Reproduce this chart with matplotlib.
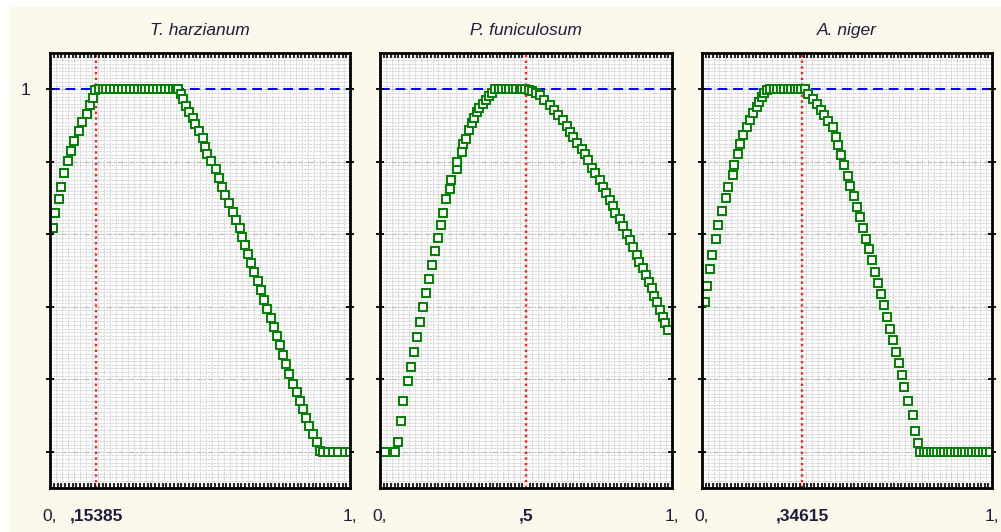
import numpy as np
import matplotlib
matplotlib.use("Agg")
import matplotlib.pyplot as plt
from matplotlib.patches import Rectangle
from matplotlib.ticker import MultipleLocator

plt.rcParams['font.family'] = ['Liberation Sans', 'DejaVu Sans']

# Desirability profiles for the three fungal strains
titles = ["T. harzianum", "P. funiculosum", "A. niger"]
optimum = [0.15385, 0.5, 0.34615]
optimum_labels = [",15385", ",5", ",34615"]
end_labels = ["0,", "1,"]

x_harz = [0.010, 0.017, 0.030, 0.036, 0.048, 0.061, 0.070, 0.081, 0.097, 0.108, 0.122, 0.133, 0.142, 0.150,
          0.162, 0.175, 0.188, 0.201, 0.214, 0.227, 0.240, 0.253, 0.266, 0.279, 0.292, 0.305, 0.318, 0.331,
          0.344, 0.357, 0.370, 0.383, 0.396, 0.409, 0.420,
          0.428, 0.436, 0.444, 0.453, 0.463, 0.476, 0.482, 0.498, 0.509, 0.518, 0.524, 0.536, 0.552, 0.563,
          0.572, 0.583, 0.598, 0.611, 0.620, 0.633, 0.639,
          0.649, 0.660, 0.671, 0.681, 0.692, 0.703, 0.713, 0.724, 0.735, 0.745, 0.756, 0.767, 0.777, 0.788, 0.798,
          0.809, 0.824, 0.833, 0.844, 0.853, 0.864, 0.878, 0.891, 0.900,
          0.911, 0.928, 0.944, 0.961, 0.983, 1.000]
y_harz = [0.617, 0.658, 0.697, 0.731, 0.768, 0.802, 0.830, 0.857, 0.885, 0.911, 0.933, 0.956, 0.977, 0.997,
          1.000, 1.000, 1.000, 1.000, 1.000, 1.000, 1.000, 1.000, 1.000, 1.000, 1.000, 1.000, 1.000, 1.000,
          1.000, 1.000, 1.000, 1.000, 1.000, 1.000, 1.000,
          1.000, 0.988, 0.972, 0.954, 0.936, 0.920, 0.903, 0.885, 0.866, 0.841, 0.821, 0.802, 0.779, 0.754,
          0.731, 0.708, 0.687, 0.662, 0.639, 0.616, 0.593,
          0.569, 0.545, 0.520, 0.495, 0.470, 0.445, 0.420, 0.395, 0.370, 0.345, 0.320, 0.294, 0.268, 0.241, 0.214,
          0.187, 0.165, 0.141, 0.118, 0.094, 0.072, 0.050, 0.026, 0.003,
          0.000, 0.000, 0.000, 0.000, 0.000, 0.000]

x_funi = [0.000, 0.017, 0.051, 0.061, 0.072, 0.080, 0.097,
          0.106, 0.116, 0.127, 0.137, 0.147, 0.158, 0.168, 0.178, 0.188, 0.199, 0.209, 0.216,
          0.226, 0.240, 0.242, 0.263, 0.265, 0.280, 0.285, 0.295, 0.306, 0.314, 0.322, 0.333, 0.340, 0.352,
          0.363, 0.374, 0.382, 0.394,
          0.406, 0.418, 0.430, 0.442, 0.454, 0.466, 0.478, 0.488, 0.497,
          0.510, 0.522, 0.535, 0.548, 0.562, 0.582, 0.597, 0.611, 0.626, 0.639, 0.651, 0.662, 0.676, 0.691,
          0.702, 0.713, 0.725, 0.736, 0.753, 0.765, 0.774, 0.788, 0.797, 0.805, 0.822, 0.833, 0.845, 0.856,
          0.867, 0.879, 0.888, 0.900, 0.911, 0.922, 0.930, 0.938, 0.950, 0.959, 0.968, 0.976, 0.985]
y_funi = [0.000, 0.000, 0.000, 0.026, 0.086, 0.139, 0.194,
          0.234, 0.275, 0.317, 0.358, 0.399, 0.438, 0.477, 0.515, 0.554, 0.590, 0.625, 0.660,
          0.697, 0.725, 0.750, 0.779, 0.800, 0.827, 0.848, 0.864, 0.887, 0.907, 0.922, 0.936, 0.947, 0.958,
          0.970, 0.981, 0.990, 1.000,
          1.000, 1.000, 1.000, 1.000, 1.000, 1.000, 1.000, 1.000, 1.000,
          0.998, 0.995, 0.990, 0.984, 0.970, 0.956, 0.942, 0.928, 0.915, 0.900, 0.882, 0.869, 0.852, 0.836,
          0.821, 0.804, 0.784, 0.768, 0.749, 0.731, 0.713, 0.694, 0.678, 0.659, 0.641, 0.623, 0.602, 0.584,
          0.564, 0.543, 0.524, 0.506, 0.488, 0.469, 0.451, 0.430, 0.412, 0.391, 0.373, 0.355, 0.336]

x_nig = [0.010, 0.016, 0.028, 0.033, 0.048, 0.056, 0.068, 0.083, 0.091, 0.106, 0.110, 0.125, 0.131, 0.142,
         0.154, 0.166, 0.177, 0.189, 0.198, 0.206, 0.214, 0.223,
         0.235, 0.247, 0.259, 0.271, 0.283, 0.295, 0.307, 0.319, 0.331, 0.343, 0.355,
         0.367, 0.384, 0.395, 0.409, 0.421, 0.436, 0.451, 0.462, 0.470,
         0.481, 0.491, 0.502, 0.512, 0.523, 0.533, 0.544, 0.554, 0.565, 0.575, 0.586, 0.596, 0.607, 0.617,
         0.628, 0.638, 0.649, 0.659, 0.670, 0.680, 0.690,
         0.697, 0.711, 0.727, 0.734, 0.746,
         0.752, 0.764, 0.776, 0.788, 0.800, 0.812, 0.824, 0.836, 0.848, 0.860, 0.872, 0.884, 0.896, 0.908,
         0.920, 0.932, 0.944, 0.956, 0.968, 0.980, 0.992]
y_nig = [0.412, 0.456, 0.504, 0.543, 0.586, 0.625, 0.664, 0.699, 0.731, 0.763, 0.791, 0.821, 0.848, 0.873,
         0.896, 0.915, 0.935, 0.951, 0.965, 0.979, 0.990, 0.999,
         1.000, 1.000, 1.000, 1.000, 1.000, 1.000, 1.000, 1.000, 1.000, 1.000, 1.000,
         0.988, 0.974, 0.958, 0.942, 0.928, 0.912, 0.896, 0.868, 0.846,
         0.818, 0.790, 0.762, 0.734, 0.705, 0.676, 0.647, 0.618, 0.588, 0.558, 0.528, 0.497, 0.466, 0.435,
         0.404, 0.372, 0.340, 0.308, 0.276, 0.244, 0.212,
         0.180, 0.139, 0.102, 0.056, 0.024,
         0.000, 0.000, 0.000, 0.000, 0.000, 0.000, 0.000, 0.000, 0.000, 0.000, 0.000, 0.000, 0.000, 0.000,
         0.000, 0.000, 0.000, 0.000, 0.000, 0.000, 0.000]

series = [(x_harz, y_harz), (x_funi, y_funi), (x_nig, y_nig)]

W, H = 1001, 532
fig = plt.figure(figsize=(W / 100, H / 100), dpi=100)
fig.patch.set_facecolor('white')
fig.add_artist(Rectangle((9 / W, 0), 1, 525 / H, transform=fig.transFigure,
                         facecolor='#fdf8ec', edgecolor='none', zorder=-10))

text_color = '#1c1c3c'
panel_px = [(50, 350), (380, 672), (702, 992)]
top_px, bottom_px = 53, 488

for i, ((left, right), title, opt, opt_lab, (xs, ys)) in enumerate(
        zip(panel_px, titles, optimum, optimum_labels, series)):
    ax = fig.add_axes([left / W, (H - bottom_px) / H, (right - left) / W, (bottom_px - top_px) / H])
    ax.set_facecolor('white')
    ax.set_xlim(0, 1)
    ax.set_ylim(-0.1, 1.1)

    # dense background grid
    for gx in np.arange(0.02, 1.0, 0.02):
        ax.axvline(gx, color='#d4d4d4', lw=0.7, ls=(0, (2, 1)), zorder=0)
    for gy in np.arange(-0.09, 1.1, 0.01):
        ax.axhline(gy, color='#d4d4d4', lw=0.7, ls=(0, (2, 1)), zorder=0)
    for gy in np.arange(0.0, 1.01, 0.2):
        ax.axhline(gy, color='#bcbcbc', lw=0.9, ls=(0, (4, 2, 1, 2)), zorder=0.5)

    ax.axhline(1.0, color='#0000ff', lw=1.4, ls=(0, (5, 3)), zorder=1)
    ax.axvline(opt, color='#ff2020', lw=1.7, ls=(0, (1, 1.4)), zorder=1)

    ax.plot(xs, ys, ls='none', marker='s', ms=6.0, mfc='white', mec='#008000', mew=1.4, zorder=3)

    for sp in ax.spines.values():
        sp.set_linewidth(2.0)
        sp.set_color('black')
        sp.set_zorder(5)

    ax.set_xticks([0, opt, 1])
    ax.set_xticklabels([end_labels[0], opt_lab, end_labels[1]])
    ax.xaxis.set_minor_locator(MultipleLocator(0.0125))
    ax.tick_params(axis='x', which='major', length=0, pad=15, labelsize=12.5, labelcolor=text_color)
    ax.tick_params(axis='x', which='minor', direction='in', length=3.5, width=1.2,
                   top=True, bottom=True, color='black')
    ax.get_xticklabels()[1].set_fontweight('bold')

    ax.set_yticks([0.0, 0.2, 0.4, 0.6, 0.8, 1.0])
    ax.set_yticklabels(['', '', '', '', '', '1' if i == 0 else ''])
    ax.yaxis.set_minor_locator(plt.NullLocator())
    ax.tick_params(axis='y', which='major', direction='inout', length=6, width=1.3,
                   left=True, right=True, pad=11, labelsize=12.5, labelcolor=text_color)

    ax.set_title(title, fontstyle='italic', fontsize=12.5, pad=13, color=text_color)

fig.savefig('out.png', dpi=100, facecolor=fig.get_facecolor())
